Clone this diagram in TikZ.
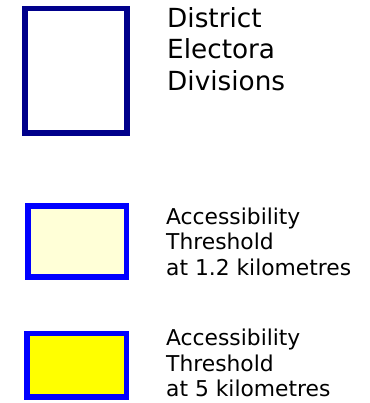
\documentclass[tikz,border=0pt]{standalone}
\usepackage{fontspec}
\setmainfont{DejaVu Sans}
\definecolor{navyb}{RGB}{0,0,139}
\definecolor{blueb}{RGB}{0,0,255}
\definecolor{paley}{RGB}{255,255,215}
\definecolor{vivid}{RGB}{255,255,0}
\tikzset{
  x=1pt,y=-1pt,
  big/.style={anchor=north west,align=left,inner sep=0pt,font=\fontsize{26.3}{31.5}\selectfont},
  small/.style={anchor=north west,align=left,inner sep=0pt,font=\fontsize{21.8}{25.5}\selectfont},
  box/.style={draw=blueb,line width=5.5pt,anchor=north west,inner sep=0pt}
}
\begin{document}
\begin{tikzpicture}
\useasboundingbox (0,0) rectangle (369,403);
\node[draw=navyb,line width=5.5pt,fill=white,anchor=north west,minimum width=102pt,minimum height=124.5pt,inner sep=0pt] (b1) at (22,6) {};
\node[box,fill=paley,minimum width=98.5pt,minimum height=71pt] (b2) at (25,203) {};
\node[box,fill=vivid,minimum width=99.5pt,minimum height=63.5pt] (b3) at (24,330.5) {};
\node[big] (t1) at (167,7.3) {District\\Electora\\Divisions};
\node[small] (t2) at (166,207.7) {Accessibility\\Threshold\\at 1.2 kilometres};
\node[small] (t3) at (166,329) {Accessibility\\Threshold\\at 5 kilometres};
\end{tikzpicture}
\end{document}
